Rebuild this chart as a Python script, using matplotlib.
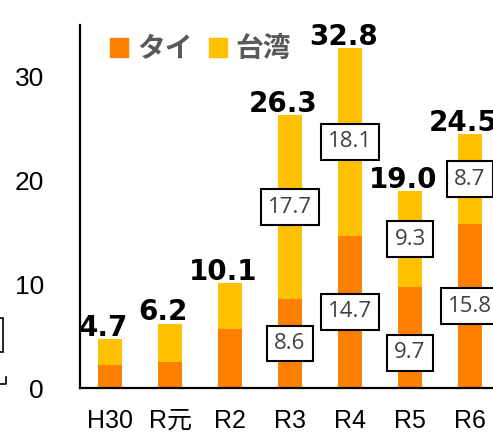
import matplotlib
matplotlib.use("Agg")
import matplotlib.pyplot as plt
from matplotlib.patches import Patch, Rectangle
from matplotlib.lines import Line2D
import numpy as np

plt.rcParams['font.family'] = ['Liberation Sans', 'Noto Sans CJK JP', 'DejaVu Sans']

# Data
years = ['H30', 'R元', 'R2', 'R3', 'R4', 'R5', 'R6']
thai = [2.2, 2.5, 5.7, 8.6, 14.7, 9.7, 15.8]
taiwan = [2.5, 3.7, 4.4, 17.7, 18.1, 9.3, 8.7]
totals = [4.7, 6.2, 10.1, 26.3, 32.8, 19.0, 24.5]
labeled = [False, False, False, True, True, True, True]  # boxed segment labels

ORANGE = '#FF8000'
YELLOW = '#FFC000'

W, H = 493, 434
fig = plt.figure(figsize=(W / 100, H / 100), dpi=100)
ax = fig.add_axes([80 / W, (H - 388) / H, 413 / W, (388 - 25) / H])

x = np.arange(len(years))
ax.bar(x, thai, width=0.4, color=ORANGE, label='タイ')
ax.bar(x, taiwan, width=0.4, bottom=thai, color=YELLOW, label='台湾')

ax.set_xlim(-0.5, 6.383)
ax.set_ylim(0, 35)
ax.set_yticks([0, 10, 20, 30])
ax.set_xticks(x)
ax.set_xticklabels(years)
ax.tick_params(axis='y', length=0, pad=26, labelsize=19)
ax.tick_params(axis='x', length=0, pad=15, labelsize=18)
for s in ['top', 'right']:
    ax.spines[s].set_visible(False)
for s in ['left', 'bottom']:
    ax.spines[s].set_linewidth(1.6)

# totals on top
for i, t in enumerate(totals):
    ax.annotate(f'{t:.1f}', (x[i], t), xytext=(-5, -2), textcoords='offset points',
                ha='center', va='bottom', fontsize=20, fontweight='bold', color='black',
                family='DejaVu Sans', annotation_clip=False)

# boxed segment labels
box = dict(boxstyle='square,pad=0.33', fc='white', ec='black', lw=1.5)
for i in range(len(years)):
    if not labeled[i]:
        continue
    dy = -11 if years[i] == 'R5' else 0  # moved down in original to avoid overlap
    ax.annotate(f'{thai[i]:.1f}', (x[i], thai[i] / 2), xytext=(0, dy), textcoords='offset points',
                ha='center', va='center', fontsize=16, color='#404040', bbox=box,
                family='Open Sans', annotation_clip=False)
    ax.annotate(f'{taiwan[i]:.1f}', (x[i], thai[i] + taiwan[i] / 2), ha='center', va='center',
                fontsize=16, color='#404040', bbox=box, family='Open Sans',
                annotation_clip=False)

handles = [Patch(color=ORANGE, label='タイ'), Patch(color=YELLOW, label='台湾')]
leg = fig.legend(handles=handles, loc='center left', bbox_to_anchor=(85 / W, 1 - 49 / H),
                 ncol=2, frameon=False, handlelength=0.65, handleheight=0.65,
                 handletextpad=0.32, columnspacing=0.58,
                 prop={'family': 'Noto Sans CJK JP', 'weight': 'bold', 'size': 20})
for t in leg.get_texts():
    t.set_color('#595959')

# cut-off bits of the y-axis title at the left edge
fig.patches.append(Rectangle((-20 / W, 1 - 352 / H), 23 / W, 34 / H, transform=fig.transFigure,
                             fill=False, ec='black', lw=1.2))
fig.lines.append(Line2D([0, 6 / W, 6 / W], [1 - 384 / H, 1 - 384 / H, 1 - 377 / H],
                        transform=fig.transFigure, color='black', lw=1.2))

fig.savefig('out.png', dpi=100)
